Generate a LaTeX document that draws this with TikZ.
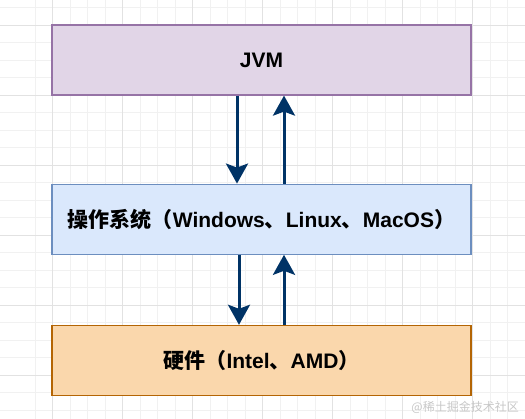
\documentclass[tikz,border=0pt]{standalone}
\usepackage{fontspec}
\setmainfont{Liberation Sans}
\newfontfamily\cjk{Noto Sans CJK SC}
\usepackage{tikz}
\usetikzlibrary{positioning, arrows.meta}
\definecolor{GridMinor}{HTML}{F1F1F1}
\definecolor{GridMajor}{HTML}{E2E2E2}
\definecolor{JvmFill}{HTML}{E1D5E7}
\definecolor{JvmLine}{HTML}{9673A6}
\definecolor{OsFill}{HTML}{DAE8FC}
\definecolor{OsLine}{HTML}{6C8EBF}
\definecolor{HwFill}{HTML}{FAD7AC}
\definecolor{HwLine}{HTML}{B46504}
\definecolor{ArrowColor}{HTML}{003366}
\tikzstyle{layer} = [draw, line width=1.2pt, minimum width=419pt, minimum height=70pt, inner sep=0pt, font=\fontsize{21}{25}\selectfont\bfseries]
\tikzstyle{arrow} = [line width=3pt, ArrowColor, -{Stealth[length=20pt, width=22pt, inset=4pt]}]

\begin{document}
\begin{tikzpicture}[x=1pt, y=-1pt]
    \useasboundingbox (0,0) rectangle (525,419);
    % grid
    \foreach \gx in {35,52.5,...,525} {
        \draw[GridMinor, line width=0.8pt] (\gx,0) -- (\gx,419);
    }
    \foreach \gy in {7.5,25,...,419} {
        \draw[GridMinor, line width=0.8pt] (0,\gy) -- (525,\gy);
    }
    \foreach \gx in {52.5,122.5,...,525} {
        \draw[GridMajor, line width=0.8pt] (\gx,0) -- (\gx,419);
    }
    \foreach \gy in {25,95,...,419} {
        \draw[GridMajor, line width=0.8pt] (0,\gy) -- (525,\gy);
    }

    % layers
    \node[layer, fill=JvmFill, draw=JvmLine] (jvm) at (261.5,60) {JVM};
    \node[layer, fill=OsFill, draw=OsLine, below=88pt of jvm] (os) {{\cjk 操作系统（}Windows{\cjk 、}Linux{\cjk 、}MacOS{\cjk ）}};
    \node[layer, fill=HwFill, draw=HwLine, below=70pt of os] (hw) {{\cjk 硬件（}Intel{\cjk 、}AMD{\cjk ）}};

    % calls between layers
    \draw[arrow] ([xshift=-24.5pt]jvm.south) -- ([xshift=-24.5pt]os.north);
    \draw[arrow] ([xshift=22.5pt]os.north) -- ([xshift=22.5pt]jvm.south);
    \draw[arrow] ([xshift=-22.5pt]os.south) -- ([xshift=-22.5pt]hw.north);
    \draw[arrow] ([xshift=22.5pt]hw.north) -- ([xshift=22.5pt]os.south);

    % watermark
    \node[anchor=east, text=black!22, font=\cjk\fontsize{12}{14}\selectfont, inner sep=0pt] (mark) at (519,407) {@稀土掘金技术社区};
\end{tikzpicture}
\end{document}
